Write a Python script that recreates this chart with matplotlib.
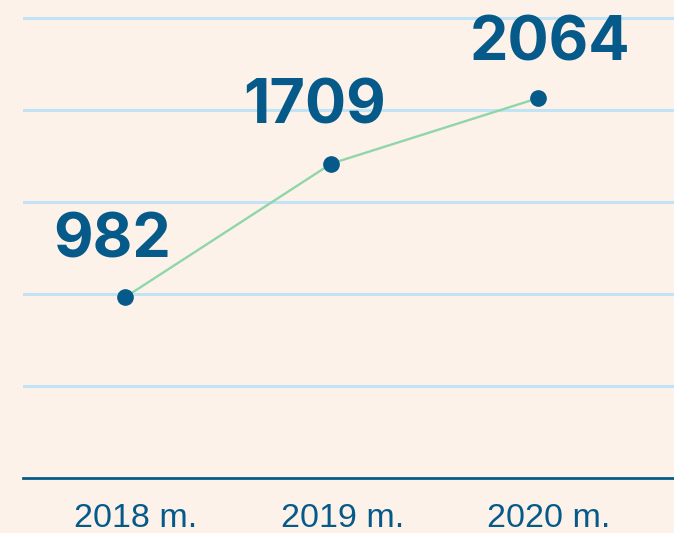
import matplotlib.pyplot as plt
import matplotlib.transforms as mtransforms
import matplotlib
matplotlib.rcParams['font.family'] = ['Liberation Sans', 'DejaVu Sans', 'sans-serif']

# data
years = ['2018 m.', '2019 m.', '2020 m.']
values = [982, 1709, 2064]
grid_levels = [500, 1000, 1500, 2000, 2500]

bg = '#fdf2e9'
dark_blue = '#065a8a'
green = '#8fd6a8'
grid_blue = '#c0e3f5'

fig = plt.figure(figsize=(6.74, 5.33), dpi=100, facecolor=bg)
ax = fig.add_axes([23 / 674, 55 / 533, 651 / 674, 478 / 533], facecolor=bg)

x = list(range(len(values)))
ax.set_xlim(-0.494, 2.66)
ax.set_ylim(0, 2598)

for g in grid_levels:
    ax.axhline(g, color=grid_blue, linewidth=2.2, zorder=1)

ax.plot(x, values, color=green, linewidth=1.7, zorder=2)
ax.plot(x, values, 'o', color=dark_blue, markersize=11, zorder=3)

# value labels, slight horizontal offsets as in the original
offsets = [(-13, 40), (-17, 40), (12, 38)]
for xi, v, (dx, dy) in zip(x, values, offsets):
    ax.annotate(f'{v}', (xi, v), xytext=(dx * 0.72, dy * 0.72), textcoords='offset points',
                ha='center', va='baseline', fontsize=44, fontweight='bold', color=dark_blue,
                family=['Inter', 'Liberation Sans', 'DejaVu Sans'])

for s in ['top', 'right', 'left']:
    ax.spines[s].set_visible(False)
ax.spines['bottom'].set_color(dark_blue)
ax.spines['bottom'].set_linewidth(2)

ax.set_yticks([])
ax.set_xticks(x)
ax.set_xticklabels(years, fontsize=24.5, color=dark_blue)
ax.tick_params(axis='x', length=0, pad=18)
shift = mtransforms.ScaledTranslation(11 / 100, 0, fig.dpi_scale_trans)
for lbl in ax.get_xticklabels():
    lbl.set_transform(lbl.get_transform() + shift)

plt.savefig('out.png', dpi=100, facecolor=bg)
